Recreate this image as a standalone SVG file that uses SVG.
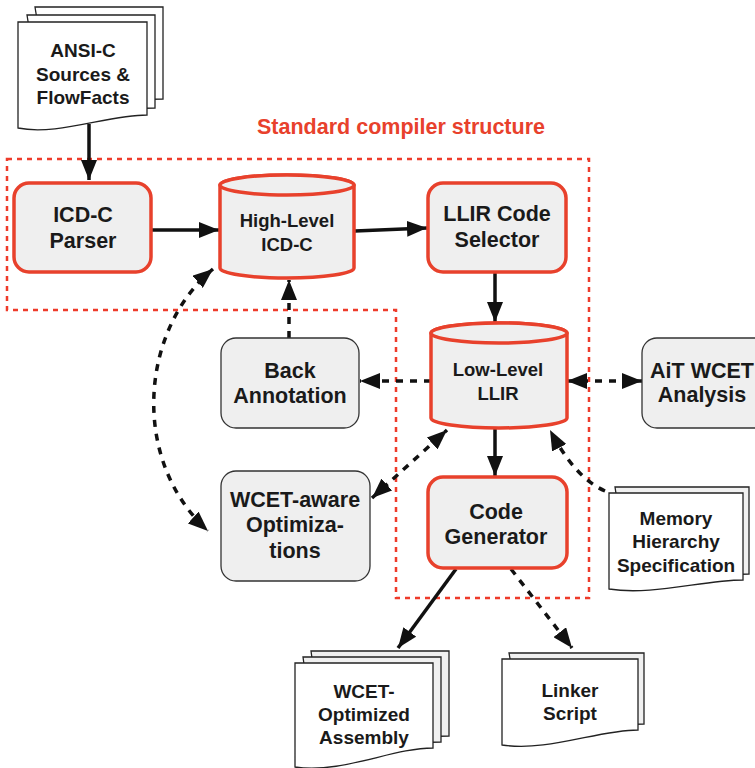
<svg xmlns="http://www.w3.org/2000/svg" width="755" height="768" viewBox="0 0 755 768">
  <style>
    text { font-family: "Liberation Sans", Arial, sans-serif; font-weight: bold; fill: #1a1a1a; text-anchor: middle; }
    .big { font-size: 21.5px; }
    .mid { font-size: 18.5px; }
    .doc { font-size: 19px; }
    .title { font-size: 21.5px; fill: #e8412c; }
    .core { fill: #efefef; stroke: #e8412c; stroke-width: 3.5; }
    .aux { fill: #efefef; stroke: #333; stroke-width: 1.3; }
    .page { fill: #fff; stroke: #222; stroke-width: 1.3; }
    .pageback { fill: #f0f0f0; stroke: #222; stroke-width: 1.3; }
    .frame { fill: none; stroke: #ee3b2a; stroke-width: 2.5; stroke-dasharray: 5 5; }
    .solid { fill: none; stroke: #111; stroke-width: 3.5; }
    .dashed { fill: none; stroke: #111; stroke-width: 3.5; stroke-dasharray: 7 7; }
  </style>
  <defs>
    <marker id="head" markerUnits="userSpaceOnUse" markerWidth="20" markerHeight="16" refX="20" refY="8" orient="auto-start-reverse">
      <path d="M0,0 L20,8 L0,16 z" fill="#111"/>
    </marker>
  </defs>

  <rect width="755" height="768" fill="#fff"/>

  <!-- compiler core boundary -->
  <g id="compiler-boundary">
    <path class="frame" d="M7,159 H589 V598 H396 V310 H7 Z"/>
    <text class="title" x="401" y="134">Standard compiler structure</text>
  </g>

  <!-- connectors -->
  <g id="connectors">
    <path class="solid" d="M89,124 V180" marker-end="url(#head)"/>
    <path class="solid" d="M151,230 H219" marker-end="url(#head)"/>
    <path class="solid" d="M355,231 L427,228" marker-end="url(#head)"/>
    <path class="solid" d="M495,273 V322" marker-end="url(#head)"/>
    <path class="solid" d="M495,428 V476" marker-end="url(#head)"/>
    <path class="dashed" d="M431,381 H360" marker-end="url(#head)"/>
    <path class="dashed" d="M289,338 V280" marker-end="url(#head)"/>
    <path class="dashed" d="M567,381 H642" marker-start="url(#head)" marker-end="url(#head)"/>
    <path class="dashed" d="M372,498 L447,430" marker-start="url(#head)" marker-end="url(#head)"/>
    <path class="dashed" d="M605,491 Q575,478 550,430" marker-end="url(#head)"/>
    <path class="dashed" d="M213,269 C140,330 130,460 208,531" marker-start="url(#head)" marker-end="url(#head)"/>
    <path class="solid" d="M456,569 L398,648" marker-end="url(#head)"/>
    <path class="dashed" d="M511,569 L572,648" marker-end="url(#head)"/>
  </g>

  <!-- input sources -->
  <g id="ansi-c-sources">
    <path class="page" d="M35,7 H163 V99 C124,99 85,105 52,113 Z"/>
    <path class="page" d="M27,15 H155 V108 C116,108 77,114 44,121 Z"/>
    <path class="page" d="M18,22 H147 V115 C108,115 57,136 18,128 Z"/>
    <text class="doc" x="83" y="57">ANSI-C</text>
    <text class="doc" x="83" y="81">Sources &amp;</text>
    <text class="doc" x="83" y="104">FlowFacts</text>
  </g>

  <g id="icd-c-parser">
    <rect class="core" x="14" y="183" width="137" height="89" rx="15"/>
    <text class="big" x="83" y="222">ICD-C</text>
    <text class="big" x="83" y="248">Parser</text>
  </g>

  <g id="high-level-icd-c">
    <path class="core" d="M220,185 V268 A67,10 0 0 0 354,268 V185 A67,10 0 0 0 220,185 Z"/>
    <ellipse class="core" cx="287" cy="185" rx="67" ry="10"/>
    <text class="mid" x="287" y="227">High-Level</text>
    <text class="mid" x="287" y="251">ICD-C</text>
  </g>

  <g id="llir-code-selector">
    <rect class="core" x="428" y="183" width="138" height="89" rx="15"/>
    <text class="big" x="497" y="221">LLIR Code</text>
    <text class="big" x="497" y="247">Selector</text>
  </g>

  <g id="low-level-llir">
    <path class="core" d="M431,333 V418 A68,10 0 0 0 567,418 V333 A68,10 0 0 0 431,333 Z"/>
    <ellipse class="core" cx="499" cy="333" rx="68" ry="10"/>
    <text class="mid" x="498" y="376">Low-Level</text>
    <text class="mid" x="498" y="400">LLIR</text>
  </g>

  <g id="back-annotation">
    <rect class="aux" x="221" y="338" width="138" height="90" rx="15"/>
    <text class="big" x="290" y="378">Back</text>
    <text class="big" x="290" y="403">Annotation</text>
  </g>

  <g id="ait-wcet-analysis">
    <rect class="aux" x="642" y="338" width="130" height="90" rx="15"/>
    <text class="big" x="702" y="378">AiT WCET</text>
    <text class="big" x="702" y="402">Analysis</text>
  </g>

  <g id="wcet-aware-optimizations">
    <rect class="aux" x="221" y="471" width="149" height="110" rx="15"/>
    <text class="big" x="295" y="507">WCET-aware</text>
    <text class="big" x="295" y="532">Optimiza-</text>
    <text class="big" x="295" y="558">tions</text>
  </g>

  <g id="code-generator">
    <rect class="core" x="428" y="477" width="139" height="91" rx="15"/>
    <text class="big" x="496" y="519">Code</text>
    <text class="big" x="496" y="544">Generator</text>
  </g>

  <g id="memory-hierarchy-specification">
    <path class="pageback" d="M615,487 H749 V574 C710,574 668,580 630,584 Z"/>
    <path class="page" d="M609,493 H743 V580 C703,580 652,596 609,589 Z"/>
    <text class="doc" x="676" y="525">Memory</text>
    <text class="doc" x="676" y="548">Hierarchy</text>
    <text class="doc" x="676" y="572">Specification</text>
  </g>

  <g id="wcet-optimized-assembly">
    <path class="pageback" d="M311,651 H449 V736 C410,736 360,748 325,754 Z"/>
    <path class="pageback" d="M303,657 H441 V742 C402,742 352,754 317,760 Z"/>
    <path class="page" d="M295,663 H433 V748 C392,748 342,774 295,767 Z"/>
    <text class="doc" x="364" y="698">WCET-</text>
    <text class="doc" x="364" y="721">Optimized</text>
    <text class="doc" x="364" y="744">Assembly</text>
  </g>

  <g id="linker-script">
    <path class="pageback" d="M509,653 H644 V724 C605,724 560,734 525,740 Z"/>
    <path class="page" d="M502,659 H638 V730 C598,730 548,752 502,745 Z"/>
    <text class="doc" x="570" y="697">Linker</text>
    <text class="doc" x="570" y="720">Script</text>
  </g>
</svg>
